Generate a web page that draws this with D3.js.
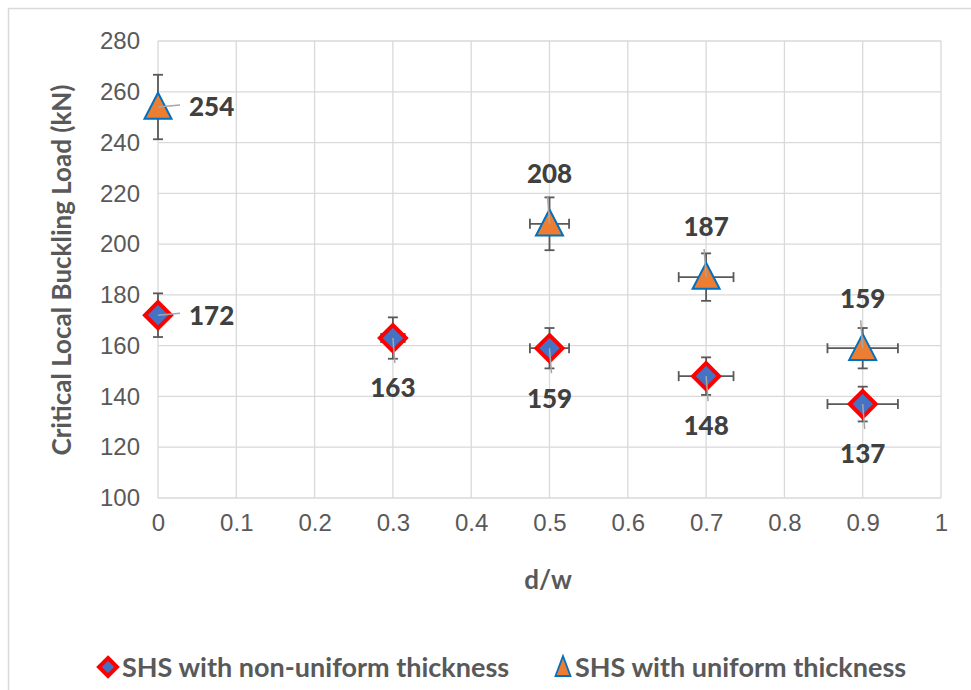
<!DOCTYPE html>
<html>
<head>
<meta charset="utf-8">
<script src="https://cdn.jsdelivr.net/npm/d3@7"></script>
<style>
  html, body { margin: 0; padding: 0; background: #fff; }
  svg { display: block; font-family: Lato, "Open Sans", sans-serif; }
</style>
</head>
<body>
<svg id="chart" width="971" height="690"></svg>
<script>
// ---- data ----
const xNonUniform = [0, 0.3, 0.5, 0.7, 0.9];
const yNonUniform = [172, 163, 159, 148, 137];
const xUniform = [0, 0.5, 0.7, 0.9];
const yUniform = [254, 208, 187, 159];
const errorFraction = 0.05;            // 5% error bars in x and y
const xTicks = [0, 0.1, 0.2, 0.3, 0.4, 0.5, 0.6, 0.7, 0.8, 0.9, 1];
const yTicks = [100, 120, 140, 160, 180, 200, 220, 240, 260, 280];
const seriesNames = ["SHS with non-uniform thickness", "SHS with uniform thickness"];
const xTitle = "d/w";
const yTitle = "Critical Local Buckling Load (kN)";

// label placement (style)
const nonUniformLabelPos = ["right", "below", "below", "below", "below"];
const uniformLabelPos = ["right", "above", "above", "above"];

const svg = d3.select("#chart");
const W = 971, H = 690;

// outer chart border
svg.append("rect").attr("x", 8.5).attr("y", 8.5).attr("width", W).attr("height", H)
  .attr("fill", "#fff").attr("stroke", "#d9d9d9").attr("stroke-width", 1.5);

const x = d3.scaleLinear().domain([0, 1]).range([158, 941]);
const y = d3.scaleLinear().domain([100, 280]).range([498, 41]);

// gridlines
const grid = svg.append("g");
grid.selectAll("line.h").data(yTicks).enter().append("line")
  .attr("x1", x(0)).attr("x2", x(1)).attr("y1", d => y(d)).attr("y2", d => y(d))
  .attr("stroke", "#d9d9d9").attr("stroke-width", 1.3);
grid.selectAll("line.v").data(xTicks).enter().append("line")
  .attr("y1", y(100)).attr("y2", y(280)).attr("x1", d => x(d)).attr("x2", d => x(d))
  .attr("stroke", "#d9d9d9").attr("stroke-width", 1.3);

// axes (labels only)
const yAxis = d3.axisLeft(y).tickValues(yTicks).tickSize(0).tickPadding(18);
const gy = svg.append("g").attr("transform", `translate(${x(0)},0)`).call(yAxis);
gy.select(".domain").remove();
gy.selectAll("text").attr("fill", "#595959").style("font-size", "24px");

const xAxis = d3.axisBottom(x).tickValues(xTicks).tickSize(0).tickPadding(16)
  .tickFormat(d => d3.format("")(d));
const gx = svg.append("g").attr("transform", `translate(0,${y(100)})`).call(xAxis);
gx.select(".domain").remove();
gx.selectAll("text").attr("fill", "#595959").style("font-size", "24px");

// axis titles
svg.append("text").attr("x", 548).attr("y", 589).attr("text-anchor", "middle")
  .attr("fill", "#595959").style("font-size", "26px").style("font-weight", "bold").text(xTitle);
svg.append("text").attr("transform", "translate(71,270) rotate(-90)").attr("text-anchor", "middle")
  .attr("fill", "#595959").style("font-size", "26px").style("font-weight", "bold").text(yTitle);

// error bars
function errorBars(xs, ys) {
  const g = svg.append("g").attr("stroke", "#595959").attr("stroke-width", 1.8).attr("fill", "none");
  xs.forEach((xv, i) => {
    const yv = ys[i];
    const ey = yv * errorFraction, ex = xv * errorFraction;
    const cx = x(xv), cy = y(yv), cap = 5;
    g.append("line").attr("x1", cx).attr("x2", cx).attr("y1", y(yv + ey)).attr("y2", y(yv - ey));
    g.append("line").attr("x1", cx - cap).attr("x2", cx + cap).attr("y1", y(yv + ey)).attr("y2", y(yv + ey));
    g.append("line").attr("x1", cx - cap).attr("x2", cx + cap).attr("y1", y(yv - ey)).attr("y2", y(yv - ey));
    if (ex > 0) {
      g.append("line").attr("x1", x(xv - ex)).attr("x2", x(xv + ex)).attr("y1", cy).attr("y2", cy);
      g.append("line").attr("x1", x(xv - ex)).attr("x2", x(xv - ex)).attr("y1", cy - cap).attr("y2", cy + cap);
      g.append("line").attr("x1", x(xv + ex)).attr("x2", x(xv + ex)).attr("y1", cy - cap).attr("y2", cy + cap);
    }
  });
}
errorBars(xNonUniform, yNonUniform);
errorBars(xUniform, yUniform);

// markers
const diamondPath = (s) => `M0,${-s} L${s},0 L0,${s} L${-s},0 Z`;
const trianglePath = (w, h) => `M0,${-h * 0.55} L${w / 2},${h * 0.45} L${-w / 2},${h * 0.45} Z`;

function drawDiamond(g, cx, cy, s, sw) {
  g.append("path").attr("d", diamondPath(s)).attr("transform", `translate(${cx},${cy})`)
    .attr("fill", "#4472c4").attr("stroke", "#ff0000").attr("stroke-width", sw).attr("stroke-linejoin", "miter");
}
function drawTriangle(g, cx, cy, w, h, sw) {
  g.append("path").attr("d", trianglePath(w, h)).attr("transform", `translate(${cx},${cy})`)
    .attr("fill", "#ed7d31").attr("stroke", "#0070c0").attr("stroke-width", sw).attr("stroke-linejoin", "miter");
}

// leader lines + labels
function labels(xs, ys, pos) {
  const g = svg.append("g");
  xs.forEach((xv, i) => {
    const cx = x(xv), cy = y(ys[i]);
    let lx, ly, x2, y2, anchor = "middle";
    if (pos[i] === "right") { lx = cx + 31; ly = cy; x2 = cx + 22; y2 = cy - 2; anchor = "start"; }
    else if (pos[i] === "below") { lx = cx; ly = cy + 50; x2 = cx + 2; y2 = cy + 25; }
    else { lx = cx; ly = cy - 50; x2 = cx - 2; y2 = cy - 28; }
    g.append("line").attr("x1", cx).attr("y1", cy).attr("x2", x2).attr("y2", y2)
      .attr("stroke", "#a6a6a6").attr("stroke-width", 1.5);
    g.append("text").attr("x", lx).attr("y", ly).attr("dy", "0.36em").attr("text-anchor", anchor)
      .attr("fill", "#404040").style("font-size", "26px").style("font-weight", "900").text(ys[i]);
  });
  return g;
}

const mk = svg.append("g");
xNonUniform.forEach((xv, i) => drawDiamond(mk, x(xv), y(yNonUniform[i]), 13, 4));
xUniform.forEach((xv, i) => drawTriangle(mk, x(xv), y(yUniform[i]), 27, 26, 2));

labels(xNonUniform, yNonUniform, nonUniformLabelPos);
labels(xUniform, yUniform, uniformLabelPos);

// legend
const lg = svg.append("g");
drawDiamond(lg, 108, 667, 9, 4);
lg.append("text").attr("x", 122).attr("y", 667).attr("dy", "0.36em")
  .attr("fill", "#595959").style("font-size", "27px").style("font-weight", "bold").text(seriesNames[0]);
drawTriangle(lg, 563, 667, 15, 20, 1.8);
lg.append("text").attr("x", 575).attr("y", 667).attr("dy", "0.36em")
  .attr("fill", "#595959").style("font-size", "27px").style("font-weight", "bold").text(seriesNames[1]);
</script>
</body>
</html>
